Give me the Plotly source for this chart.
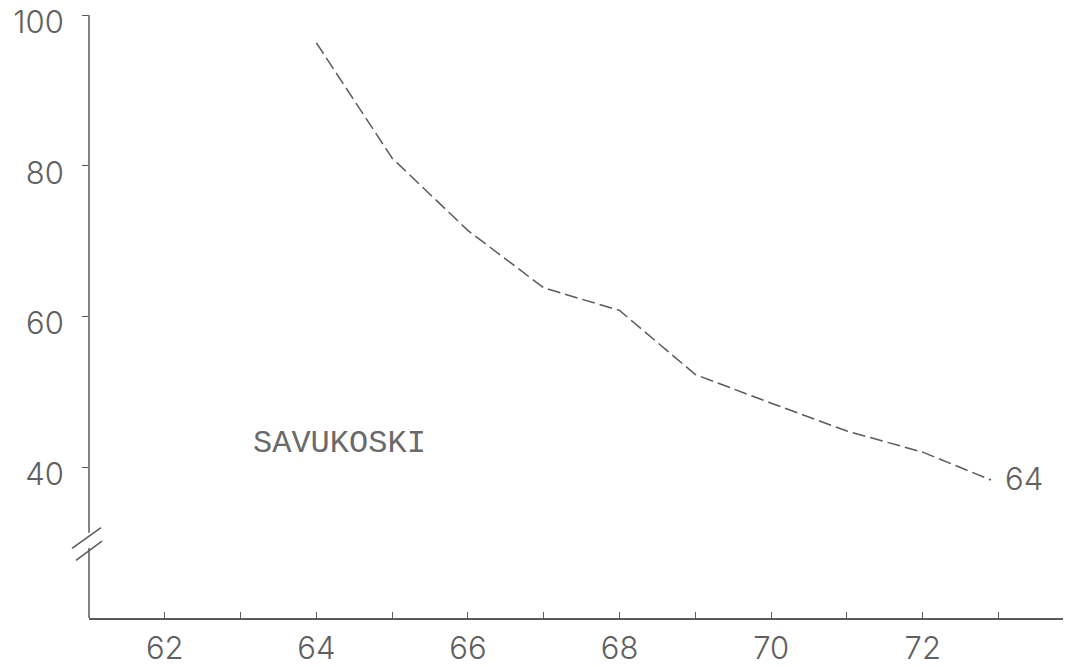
import plotly.graph_objects as go

# Data
years = [64, 65, 66, 67, 68, 69, 70, 71, 72, 72.9]
values = [96.3, 81.0, 71.4, 63.8, 60.8, 52.3, 48.5, 44.8, 42.0, 38.3]

x_tick_vals = [62, 63, 64, 65, 66, 67, 68, 69, 70, 71, 72, 73]
x_tick_text = ["62", "", "64", "", "66", "", "68", "", "70", "", "72", ""]
y_tick_vals = [40, 60, 80, 100]
y_tick_text = ["40", "60", "80", "100"]

series_label = "SAVUKOSKI"
end_label = "64"

ink = "#5a5a5a"
tick_font = dict(family="Inter, Lato, Open Sans, sans-serif", size=31, color="#606060", weight=300)

Y0, Y1 = 20, 100
PLOT_W = 974


def py(v):
    return (v - Y0) / (Y1 - Y0)


fig = go.Figure()
fig.add_trace(go.Scatter(
    x=years, y=values, mode="lines",
    line=dict(color=ink, width=1.5, dash="13px,5px"),
    showlegend=False, hoverinfo="skip",
))

fig.update_layout(
    width=1066, height=667,
    margin=dict(l=89, r=3, t=15, b=49),
    paper_bgcolor="white", plot_bgcolor="white",
    xaxis=dict(
        range=[61, 73.85], showgrid=False, zeroline=False, automargin=False,
        showline=True, linecolor=ink, linewidth=1.5,
        tickmode="array", tickvals=x_tick_vals, ticktext=x_tick_text,
        ticks="inside", ticklen=6, tickwidth=1.2, tickcolor=ink,
        tickfont=tick_font, ticklabelstandoff=2, ticklabeloverflow="allow",
    ),
    yaxis=dict(
        range=[Y0, Y1], showgrid=False, zeroline=False, automargin=False,
        showline=False,
        tickmode="array", tickvals=y_tick_vals, ticktext=y_tick_text,
        ticks="outside", ticklen=6, tickwidth=1.2, tickcolor=ink,
        tickfont=tick_font, ticklabelstandoff=12,
        ticklabeloverflow="allow", ticklabelshift=7,
    ),
    annotations=[
        dict(x=64.31, y=43.2, xref="x", yref="y", text=series_label, showarrow=False,
             xanchor="center", yanchor="middle",
             font=dict(family="Courier New, Liberation Mono, monospace", size=32, color="#6a6a6a")),
        dict(x=73.33, y=38.5, xref="x", yref="y", text=end_label, showarrow=False,
             xanchor="center", yanchor="middle", font=tick_font),
    ],
    shapes=[
        # y-axis line with a gap for the axis break
        dict(type="line", xref="paper", yref="paper", x0=0, x1=0, y0=0, y1=py(29.3),
             line=dict(color=ink, width=1.5)),
        dict(type="line", xref="paper", yref="paper", x0=0, x1=0, y0=py(31.3), y1=1,
             line=dict(color=ink, width=1.5)),
        # break marks
        dict(type="line", xref="paper", yref="paper", x0=-17 / PLOT_W, x1=12 / PLOT_W,
             y0=py(29.25), y1=py(32.0), line=dict(color=ink, width=1.5)),
        dict(type="line", xref="paper", yref="paper", x0=-13 / PLOT_W, x1=13 / PLOT_W,
             y0=py(27.65), y1=py(30.2), line=dict(color=ink, width=1.5)),
    ],
)

fig.write_html("out.html")
